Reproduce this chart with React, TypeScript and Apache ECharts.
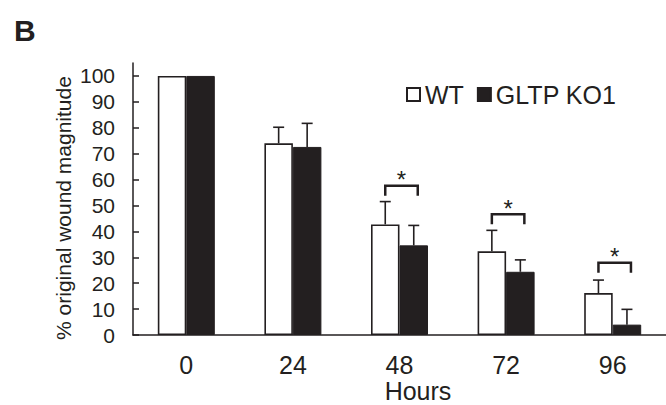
import React, { useEffect, useRef } from "react";
import * as echarts from "echarts";

const categories = ["0", "24", "48", "72", "96"];
const wtMeans = [100, 74.0, 42.7, 32.3, 16.2];
const koMeans = [100, 72.6, 34.6, 24.4, 4.0];
const wtErr = [0, 6.2, 8.8, 8.1, 5.0];
const koErr = [0, 9.1, 7.7, 4.6, 5.9];
const sigCategories = [2, 3, 4];
const sigTops = [57.6, 46.6, 27.9];
const yTicks = [0, 10, 20, 30, 40, 50, 60, 70, 80, 90, 100];

const INK = "#231f20";
const FONT = "Liberation Sans, Arial, sans-serif";
const BAR_W = 28.5;

export default function App() {
  const ref = useRef<HTMLDivElement>(null);
  useEffect(() => {
    if (!ref.current) return;
    const chart = echarts.init(ref.current, undefined, { renderer: "svg" });

    const errRender = (offsetSign: number) => (params: any, api: any) => {
      const cat = api.value(0);
      const mean = api.value(1);
      const sd = api.value(2);
      if (!sd) return { type: "group", children: [] };
      const x = api.coord([cat, 0])[0] + offsetSign * BAR_W / 2;
      const y1 = api.coord([cat, mean])[1];
      const y2 = api.coord([cat, mean + sd])[1];
      const style = { stroke: INK, lineWidth: 1.6, fill: null };
      return {
        type: "group",
        children: [
          { type: "line", shape: { x1: x, y1: y1, x2: x, y2: y2 }, style },
          { type: "line", shape: { x1: x - 5.5, y1: y2, x2: x + 5.5, y2: y2 }, style },
        ],
      };
    };

    const option: any = {
      animation: false,
      textStyle: { fontFamily: FONT, color: INK },
      grid: { left: 133, top: 63, width: 538, height: 272 },
      legend: {
        data: ["WT", "GLTP KO1"],
        left: 401,
        top: 77,
        itemWidth: 13,
        itemHeight: 13,
        itemGap: 13,
        icon: "rect",
        textStyle: { fontSize: 25, fontFamily: FONT, color: INK },
      },
      xAxis: {
        type: "category",
        data: categories,
        axisLine: { show: true, lineStyle: { color: INK, width: 1.5 } },
        axisTick: { show: false },
        axisLabel: { fontSize: 25, color: INK, margin: 17, fontFamily: FONT },
        splitLine: { show: false },
      },
      yAxis: {
        type: "value",
        min: 0,
        max: 105,
        interval: 10,
        axisLine: { show: true, lineStyle: { color: INK, width: 1.5 } },
        axisTick: { show: true, inside: true, length: 6, customValues: yTicks, lineStyle: { color: INK, width: 1.5 } },
        axisLabel: { fontSize: 21, color: INK, margin: 18, customValues: yTicks, fontFamily: FONT },
        splitLine: { show: false },
      },
      graphic: [
        {
          type: "text",
          left: 14,
          top: 15,
          style: { text: "B", fontSize: 30, fontWeight: "bold", fontFamily: FONT, fill: INK },
        },
        {
          type: "text",
          x: 63,
          y: 208,
          rotation: Math.PI / 2,
          style: {
            text: "% original wound magnitude",
            fontSize: 21,
            fontFamily: FONT,
            fill: INK,
            align: "center",
            verticalAlign: "middle",
          },
        },
        {
          type: "text",
          x: 418,
          y: 378,
          style: { text: "Hours", fontSize: 25, fontFamily: FONT, fill: INK, align: "center", verticalAlign: "top" },
        },
      ],
      series: [
        {
          name: "WT",
          type: "bar",
          data: wtMeans,
          barWidth: BAR_W,
          barGap: "0%",
          itemStyle: { color: "#ffffff", borderColor: INK, borderWidth: 1.6 },
          z: 2,
        },
        {
          name: "GLTP KO1",
          type: "bar",
          data: koMeans,
          barWidth: BAR_W,
          barGap: "0%",
          itemStyle: { color: INK, borderColor: INK, borderWidth: 1 },
          z: 2,
        },
        {
          type: "custom",
          renderItem: errRender(-1),
          data: wtMeans.map((m, i) => [i, m, wtErr[i]]),
          encode: { x: 0, y: [1, 2] },
          z: 3,
          silent: true,
        },
        {
          type: "custom",
          renderItem: errRender(1),
          data: koMeans.map((m, i) => [i, m, koErr[i]]),
          encode: { x: 0, y: [1, 2] },
          z: 3,
          silent: true,
        },
        {
          type: "custom",
          renderItem: (params: any, api: any) => {
            const cat = api.value(0);
            const top = api.value(1);
            const cx = api.coord([cat, top]);
            const x1 = cx[0] - BAR_W / 2;
            const x2 = cx[0] + BAR_W / 2 + 4;
            const yt = cx[1];
            const yl = yt + 10;
            return {
              type: "group",
              children: [
                {
                  type: "polyline",
                  shape: { points: [[x1, yl], [x1, yt], [x2, yt], [x2, yl]] },
                  style: { stroke: INK, lineWidth: 2.5, fill: null },
                },
                {
                  type: "text",
                  x: (x1 + x2) / 2,
                  y: yt - 6,
                  style: { text: "*", fontSize: 24, fontFamily: FONT, fill: INK, align: "center", verticalAlign: "middle" },
                },
              ],
            };
          },
          data: sigCategories.map((c, i) => [c, sigTops[i]]),
          encode: { x: 0, y: 1 },
          z: 4,
          silent: true,
        },
      ],
    };
    chart.setOption(option);
    return () => chart.dispose();
  }, []);
  return <div ref={ref} style={{ position: "fixed", left: 0, top: 0, width: 666, height: 405, background: "#fff" }} />;
}
